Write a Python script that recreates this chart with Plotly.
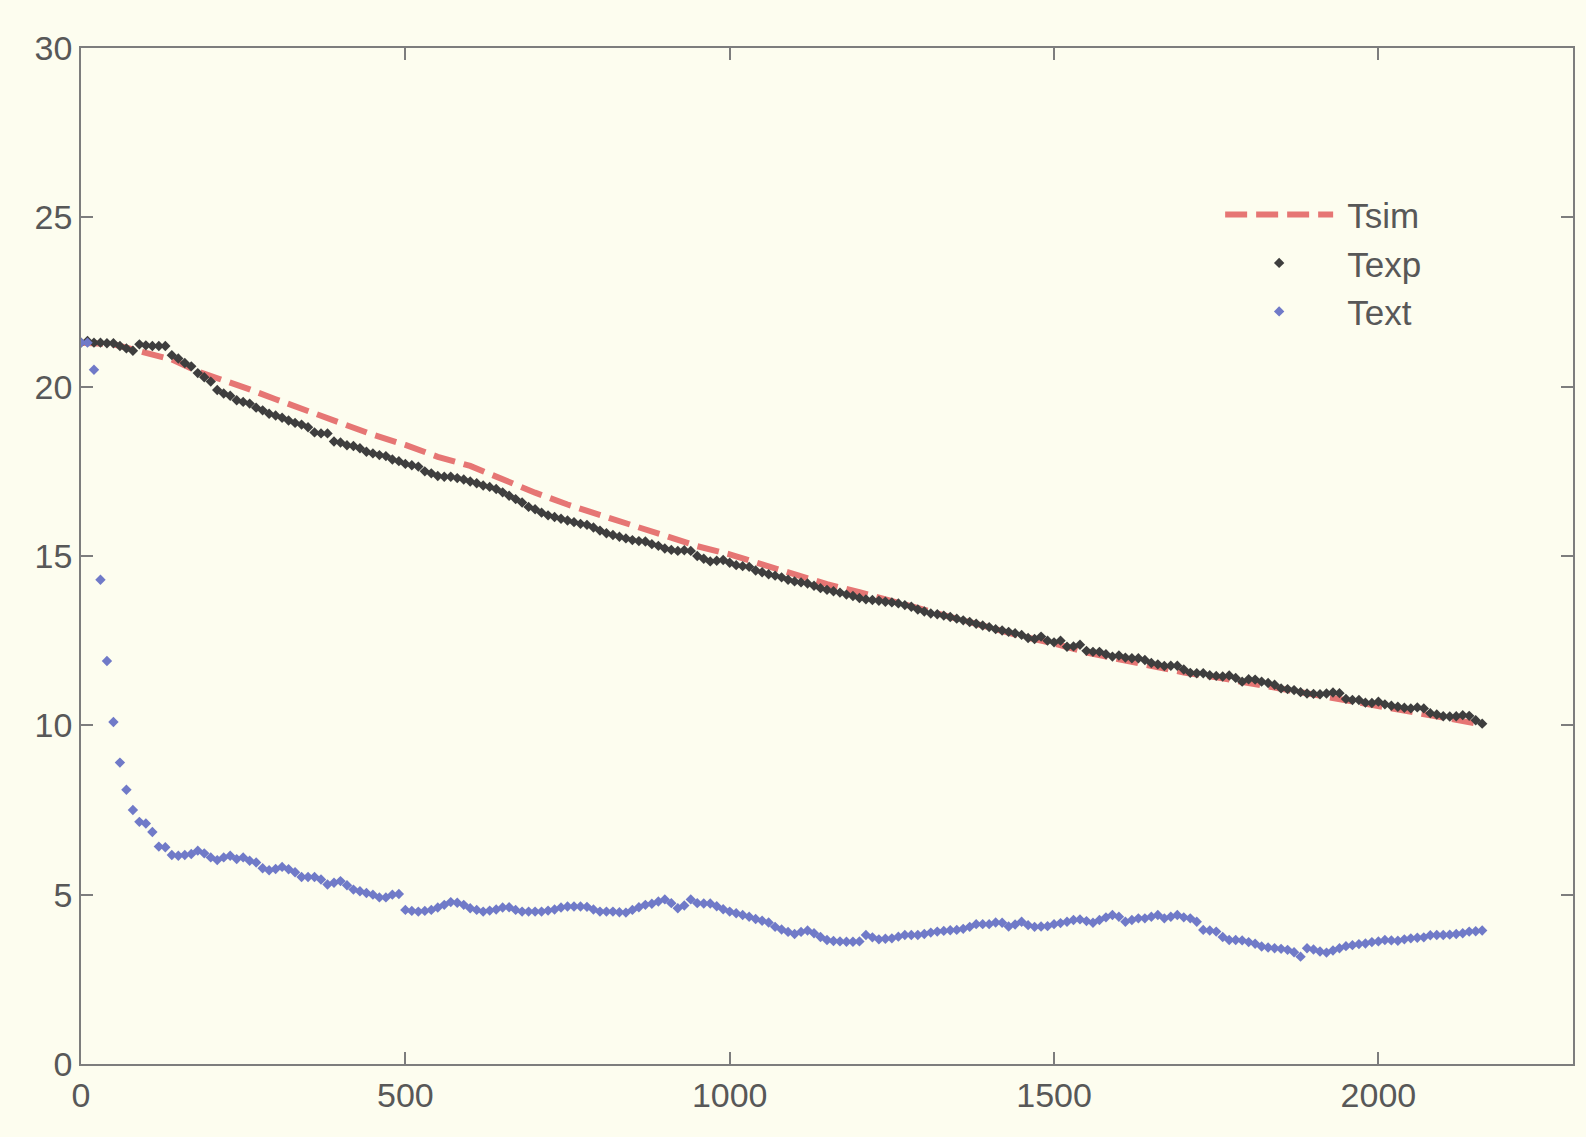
import plotly.graph_objects as go

# Sample times (s) for the measured series, one reading every 10 s
t_meas = list(range(0, 2170, 10))

# Measured inner temperature (Texp)
texp = [
    21.30, 21.35, 21.30, 21.30, 21.28, 21.28, 21.20, 21.13, 21.06, 21.25,
    21.22, 21.20, 21.20, 21.20, 20.93, 20.83, 20.70, 20.60, 20.40, 20.28,
    20.15, 19.90, 19.80, 19.73, 19.60, 19.55, 19.50, 19.38, 19.30, 19.20,
    19.15, 19.08, 19.00, 18.93, 18.88, 18.80, 18.65, 18.62, 18.62, 18.38,
    18.35, 18.27, 18.25, 18.18, 18.08, 18.03, 17.98, 17.95, 17.85, 17.80,
    17.72, 17.68, 17.64, 17.50, 17.44, 17.36, 17.34, 17.34, 17.30, 17.26,
    17.20, 17.15, 17.08, 17.04, 16.98, 16.88, 16.78, 16.68, 16.58, 16.45,
    16.38, 16.28, 16.20, 16.15, 16.10, 16.05, 16.00, 15.95, 15.92, 15.84,
    15.75, 15.67, 15.62, 15.57, 15.52, 15.47, 15.44, 15.43, 15.35, 15.30,
    15.22, 15.18, 15.15, 15.17, 15.15, 15.00, 14.92, 14.84, 14.86, 14.88,
    14.80, 14.73, 14.70, 14.68, 14.57, 14.52, 14.46, 14.42, 14.37, 14.30,
    14.25, 14.22, 14.19, 14.12, 14.05, 14.00, 13.96, 13.92, 13.86, 13.82,
    13.76, 13.72, 13.70, 13.68, 13.65, 13.63, 13.60, 13.55, 13.50, 13.42,
    13.36, 13.30, 13.28, 13.24, 13.20, 13.15, 13.10, 13.05, 13.00, 12.95,
    12.90, 12.84, 12.80, 12.76, 12.72, 12.67, 12.58, 12.55, 12.62, 12.50,
    12.45, 12.50, 12.32, 12.33, 12.38, 12.20, 12.17, 12.17, 12.10, 12.03,
    12.06, 12.00, 11.98, 11.98, 11.93, 11.84, 11.80, 11.75, 11.76, 11.76,
    11.65, 11.55, 11.54, 11.54, 11.48, 11.46, 11.44, 11.47, 11.40, 11.29,
    11.36, 11.35, 11.29, 11.25, 11.20, 11.09, 11.07, 11.04, 10.98, 10.94,
    10.93, 10.92, 10.94, 10.97, 10.95, 10.78, 10.75, 10.75, 10.67, 10.66,
    10.70, 10.62, 10.58, 10.55, 10.52, 10.50, 10.53, 10.50, 10.36, 10.32,
    10.27, 10.26, 10.27, 10.30, 10.28, 10.15, 10.05,
]

# Measured outer temperature (Text)
text_ext = [
    21.30, 21.30, 20.50, 14.30, 11.90, 10.10, 8.90, 8.10, 7.50, 7.15,
    7.10, 6.85, 6.42, 6.40, 6.17, 6.15, 6.17, 6.20, 6.30, 6.22,
    6.10, 6.02, 6.10, 6.15, 6.05, 6.10, 6.00, 5.95, 5.78, 5.72,
    5.76, 5.82, 5.75, 5.66, 5.52, 5.52, 5.52, 5.45, 5.30, 5.35,
    5.40, 5.28, 5.15, 5.10, 5.05, 5.00, 4.92, 4.92, 5.00, 5.02,
    4.55, 4.52, 4.50, 4.52, 4.55, 4.62, 4.70, 4.78, 4.76, 4.70,
    4.60, 4.55, 4.50, 4.53, 4.56, 4.62, 4.63, 4.55, 4.50, 4.50,
    4.50, 4.50, 4.53, 4.56, 4.62, 4.65, 4.65, 4.65, 4.64, 4.56,
    4.50, 4.50, 4.50, 4.48, 4.47, 4.55, 4.63, 4.70, 4.73, 4.80,
    4.86, 4.75, 4.60, 4.68, 4.86, 4.75, 4.74, 4.74, 4.66, 4.57,
    4.50, 4.45, 4.40, 4.35, 4.28, 4.23, 4.18, 4.05, 3.97, 3.90,
    3.84, 3.90, 3.94, 3.86, 3.75, 3.66, 3.63, 3.62, 3.61, 3.61,
    3.62, 3.81, 3.74, 3.68, 3.70, 3.71, 3.76, 3.81, 3.81, 3.81,
    3.84, 3.88, 3.91, 3.93, 3.95, 3.96, 3.99, 4.05, 4.13, 4.13,
    4.13, 4.18, 4.17, 4.06, 4.12, 4.20, 4.10, 4.05, 4.06, 4.07,
    4.13, 4.16, 4.20, 4.25, 4.27, 4.22, 4.17, 4.25, 4.33, 4.40,
    4.35, 4.20, 4.25, 4.30, 4.30, 4.35, 4.40, 4.30, 4.35, 4.40,
    4.33, 4.30, 4.20, 3.96, 3.94, 3.91, 3.75, 3.66, 3.66, 3.65,
    3.60, 3.55, 3.47, 3.44, 3.42, 3.40, 3.37, 3.30, 3.17, 3.42,
    3.38, 3.32, 3.29, 3.35, 3.42, 3.48, 3.51, 3.54, 3.56, 3.60,
    3.62, 3.66, 3.65, 3.64, 3.68, 3.71, 3.73, 3.74, 3.80, 3.81,
    3.81, 3.82, 3.84, 3.86, 3.91, 3.92, 3.94,
]

# Simulated inner temperature (Tsim)
t_sim = [0, 50, 80, 100, 140, 180, 220, 260, 300, 350, 400, 450, 500, 550,
         600, 650, 700, 750, 800, 850, 900, 950, 1000, 1050, 1100, 1150,
         1200, 1250, 1300, 1350, 1400, 1450, 1500, 1550, 1600, 1650, 1700,
         1750, 1800, 1850, 1900, 1950, 2000, 2050, 2100, 2160]
tsim = [21.30, 21.25, 21.10, 21.00, 20.80, 20.45, 20.20, 19.92, 19.63, 19.28,
        18.92, 18.58, 18.28, 17.93, 17.66, 17.25, 16.87, 16.52, 16.20, 15.90,
        15.60, 15.29, 15.05, 14.75, 14.46, 14.17, 13.93, 13.67, 13.40, 13.14,
        12.88, 12.63, 12.42, 12.15, 11.95, 11.76, 11.56, 11.42, 11.25, 11.08,
        10.93, 10.78, 10.58, 10.43, 10.23, 10.02]

x_ticks = [0, 500, 1000, 1500, 2000]
y_ticks = [0, 5, 10, 15, 20, 25, 30]

BG = "rgb(253,253,239)"
AXIS = "rgb(125,125,125)"
FONT = "Liberation Sans, Arial, sans-serif"

fig = go.Figure()
# a leading space keeps the legend labels clear of the long dash sample
fig.add_trace(go.Scatter(
    x=t_sim, y=tsim, mode="lines", name=" Tsim",
    line=dict(color="rgb(230,118,116)", width=6, dash="22px,9px"),
))
fig.add_trace(go.Scatter(
    x=t_meas, y=texp, mode="markers", name=" Texp",
    marker=dict(symbol="diamond", size=8, color="rgb(62,62,62)"),
))
fig.add_trace(go.Scatter(
    x=t_meas, y=text_ext, mode="markers", name=" Text",
    marker=dict(symbol="diamond", size=8, color="rgb(112,122,200)"),
))

axis_common = dict(
    showgrid=False, zeroline=False, showline=True, linecolor=AXIS,
    linewidth=1.5, mirror="ticks", ticks="inside", ticklen=12,
    tickwidth=1.5, tickcolor=AXIS,
    tickfont=dict(family=FONT, size=34, color="rgb(88,88,88)"),
)

fig.update_layout(
    width=1586, height=1137,
    margin=dict(l=81, r=11, t=48, b=73),
    paper_bgcolor=BG, plot_bgcolor=BG,
    xaxis=dict(range=[0, 2300], tickvals=x_ticks, **axis_common),
    yaxis=dict(range=[0, 30], tickvals=y_ticks, ticklabelstandoff=0,
               **axis_common),
    legend=dict(
        x=0.7635, y=0.865, xanchor="left", yanchor="top",
        bgcolor="rgba(0,0,0,0)", borderwidth=0, itemwidth=108,
        font=dict(family=FONT, size=35, color="rgb(88,88,88)"),
    ),
)

fig.write_html("out.html")
